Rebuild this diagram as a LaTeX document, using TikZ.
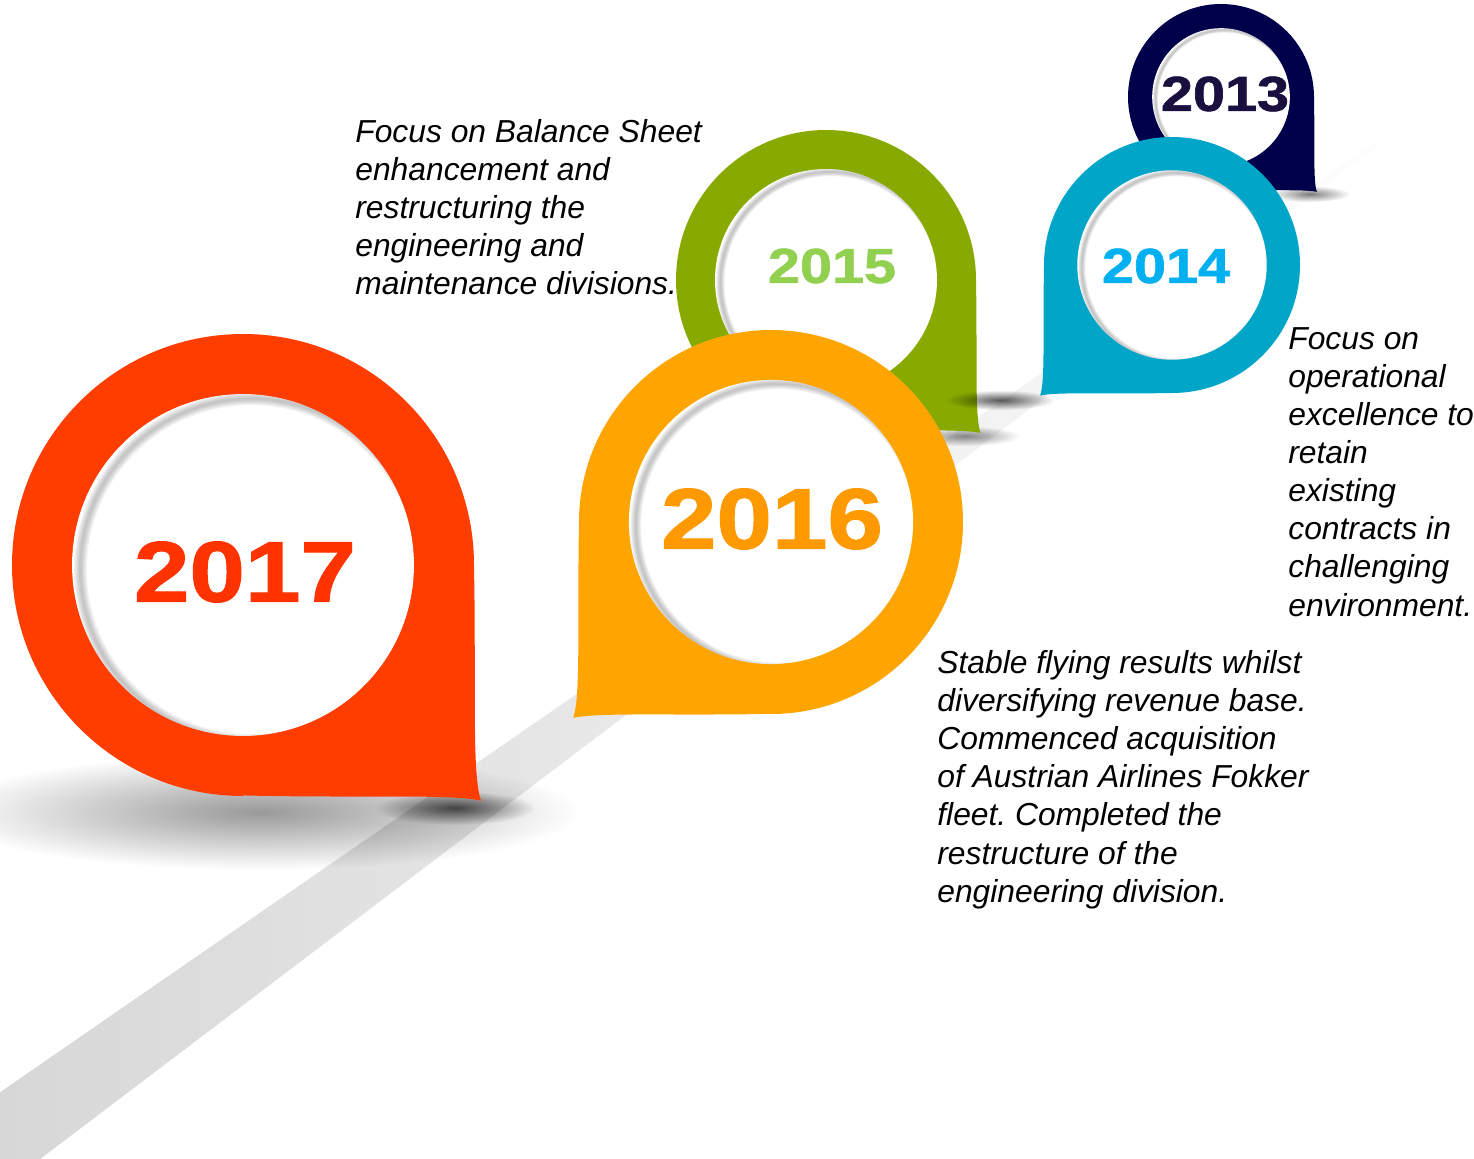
\documentclass[tikz,border=0pt]{standalone}
\usepackage{fontspec}
\setmainfont{Liberation Sans}
\newfontface\yearface{Liberation Sans Bold}[FakeBold=1.2]
\frenchspacing

\definecolor{pinred}{HTML}{FF3D00}
\definecolor{pinorange}{HTML}{FFA502}
\definecolor{pingreen}{HTML}{88AA00}
\definecolor{pincyan}{HTML}{00A5C8}
\definecolor{pinnavy}{HTML}{00004A}
\definecolor{yrred}{HTML}{FF3300}
\definecolor{yrorange}{HTML}{FF9900}
\definecolor{yrgreen}{HTML}{92D050}
\definecolor{yrcyan}{HTML}{00B0F0}
\definecolor{yrnavy}{HTML}{1A1040}

\tikzset{
    smallyear/.style = {font=\fontsize{28}{30}\yearface, xscale=1.17, inner sep=0},
    bigyear/.style = {font=\fontsize{49}{52}\yearface, xscale=1.16, inner sep=0},
    note/.style = {font=\fontsize{18.1}{21.7}\selectfont\itshape, align=left, anchor=north west, inner sep=0},
    groundshadow/.style = {inner color=black!#1, outer color=white, blend mode=multiply}
}

\begin{document}
\begin{tikzpicture}[x=0.02cm, y=-0.02cm]
        \useasboundingbox (0,0) rectangle (1474,1159);
        \clip (0,0) rectangle (1474,1159);
        \fill[white] (0,0) rectangle (1474,1159);

        % road
        \shade[left color=gray!32, middle color=gray!26, right color=white] (-30,1113) -- (1440,98) -- (-14,1200) -- cycle;

        % shadows on the ground
        \shade[groundshadow=40] (260,812) ellipse [x radius=320, y radius=58];
        \shade[groundshadow=65] (455,808) ellipse [x radius=80, y radius=17];
        \shade[groundshadow=45] (965,436) ellipse [x radius=55, y radius=10];
        \shade[groundshadow=50] (1310,194) ellipse [x radius=40, y radius=8];

        % pins, back to front
        \foreach \yr/\cx/\cy/\R/\flip/\col in {2013/1221/97/93/1/pinnavy, 2014/1172/265/128/-1/pincyan,
                2015/826/280/150/1/pingreen, 2016/771/522/192/-1/pinorange, 2017/243/565/231/1/pinred}{
            \begin{scope}[shift={(\cx,\cy)}, scale=\R]
                \fill[\col, xscale=\flip] (0,1) arc[start angle=90, end angle=360, radius=1]
                    .. controls (1.01,.55) and (.99,.9) .. (1.03,1.02)
                    .. controls (.9,.99) and (.5,1.01) .. cycle;
                \fill[white] (0,0) circle[radius=.74];
                \begin{scope}
                    \clip (0,0) circle[radius=.74];
                    \foreach \w in {1,...,5}
                        \draw[black!70, opacity=.07, line width=\w*\R*.0063pt] (.036,.02) circle[radius=.74];
                \end{scope}
            \end{scope}
        }

        % 2014 casts onto the green pin
        \shade[groundshadow=65] (1000,400) ellipse [x radius=55, y radius=10];

        \node[smallyear, text=yrnavy] (y2013) at (1225,94) {2013};
        \node[smallyear, text=yrcyan] (y2014) at (1166,266) {2014};
        \node[smallyear, text=yrgreen] (y2015) at (832,266) {2015};
        \node[bigyear, text=yrorange] (y2016) at (772,519) {2016};
        \node[bigyear, text=yrred] (y2017) at (245,572) {2017};

        \node[note] (note2015) at (355,119) {Focus on Balance Sheet\\enhancement and\\restructuring the\\engineering and\\maintenance divisions.};
        \node[note] (note2014) at (1288,327) {Focus on\\operational\\excellence to\\retain\\existing\\contracts in\\challenging\\environment.};
        \node[note] (note2016) at (937,650) {Stable flying results whilst\\diversifying revenue base.\\Commenced acquisition\\of Austrian Airlines Fokker\\fleet. Completed the\\restructure of the\\engineering division.};
    \end{tikzpicture}
\end{document}
